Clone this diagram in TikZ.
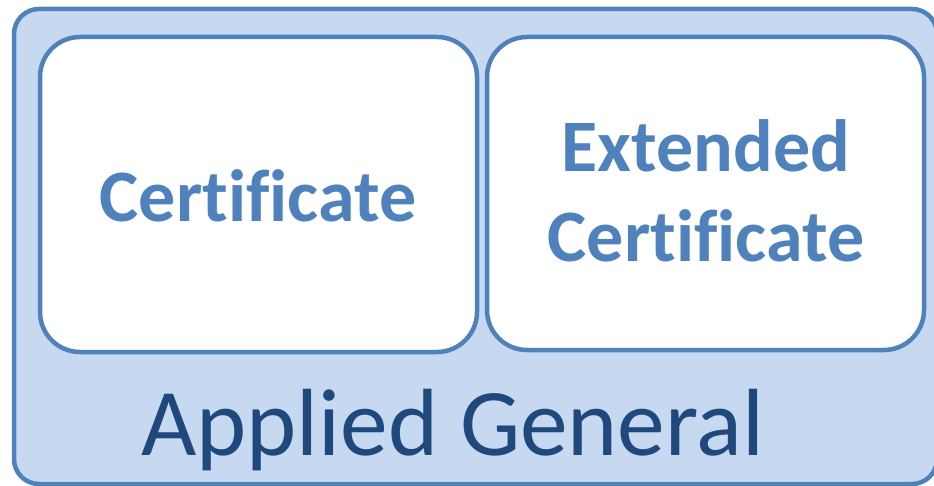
\documentclass[tikz,border=0pt]{standalone}
\usepackage{fontspec}
\setmainfont[Ligatures=NoCommon]{Carlito}
\definecolor{boxblue}{HTML}{4F81BD}
\definecolor{lightfill}{HTML}{C6D9F1}
\definecolor{darktext}{HTML}{1F497D}
\begin{document}
\begin{tikzpicture}[x=1pt,y=1pt,
  outerbox/.style={draw=boxblue,fill=lightfill,line width=4.5pt,rounded corners=25pt},
  innerbox/.style={draw=boxblue,fill=white,line width=4.5pt,rounded corners=40pt},
  boxtext/.style={text=boxblue,font=\fontsize{74}{90}\selectfont\bfseries,inner sep=0pt,align=center}]
\useasboundingbox (0,0) rectangle (934,485);
\draw[outerbox] (14,1) rectangle (937,476);
\draw[innerbox] (40,133) rectangle (477,448) node[pos=0.5] (cert) {};
\draw[innerbox] (487,135) rectangle (924,448) node[pos=0.5] (ext) {};
\node[boxtext,anchor=base] (t1) at (258,263) {Certificate};
\node[boxtext,anchor=base] (t2) at (706,313) {Extended};
\node[boxtext,anchor=base] (t3) at (706,223) {Certificate};
\node[text=darktext,font=\fontsize{95.5}{110}\selectfont,inner sep=0pt,anchor=base] (ag) at (453,30) {Applied General};
\end{tikzpicture}
\end{document}
